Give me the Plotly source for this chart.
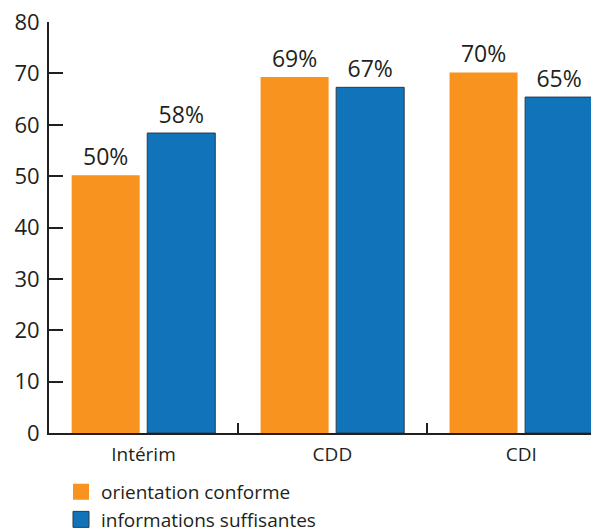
import plotly.graph_objects as go

# Values
categories = ["Intérim", "CDD", "CDI"]
orientation = [50.2, 69.3, 70.2]
informations = [58.4, 67.3, 65.4]
y_ticks = [0, 10, 20, 30, 40, 50, 60, 70, 80]

font = "Open Sans, DejaVu Sans, sans-serif"
ink = "#231f20"
orange = "#F7931E"
blue = "#1173BA"

fig = go.Figure()

fig.add_trace(go.Bar(
    x=categories, y=orientation, name="orientation conforme",
    marker=dict(color=orange, line=dict(width=0)),
    texttemplate="%{y:.0f}%", textposition="outside",
    textfont=dict(size=23, color=ink), cliponaxis=False, showlegend=False
))

fig.add_trace(go.Bar(
    x=categories, y=informations, name="informations suffisantes",
    marker=dict(color=blue, line=dict(color="#2a3a48", width=1)),
    texttemplate="%{y:.0f}%", textposition="outside",
    textfont=dict(size=23, color=ink), cliponaxis=False, showlegend=False
))

# legend entries with bigger square swatches
fig.add_trace(go.Scatter(
    x=[None], y=[None], mode="markers", name="orientation conforme",
    marker=dict(symbol="square", size=18, color=orange)
))
fig.add_trace(go.Scatter(
    x=[None], y=[None], mode="markers", name="informations suffisantes",
    marker=dict(symbol="square", size=18, color=blue, line=dict(color="#2a3a48", width=1))
))

# page body adds an 8px offset, so margins are shifted to compensate
fig.update_layout(
    width=599, height=530,
    margin=dict(l=41, r=12, t=14, b=105),
    plot_bgcolor="white", paper_bgcolor="white",
    font=dict(family=font, color=ink),
    barmode="group", bargap=0.2, bargroupgap=0.1,
    showlegend=True,
    legend=dict(
        xref="paper", yref="container",
        x=0.022, y=0.123, xanchor="left", yanchor="top",
        font=dict(size=19, color=ink), traceorder="normal",
        tracegroupgap=0, itemsizing="trace"
    ),
    uniformtext=dict(minsize=23, mode="show"),
)

fig.update_xaxes(
    range=[-0.5, 2.39], showline=True, linecolor=ink, linewidth=2,
    ticks="inside", tickson="boundaries", ticklen=10, tickcolor=ink, tickwidth=1.5,
    tickfont=dict(size=19, color=ink), showgrid=False, automargin=False,
    ticklabelstandoff=3
)

fig.update_yaxes(
    range=[0, 80.02], tickmode="array", tickvals=y_ticks,
    showline=True, linecolor=ink, linewidth=2,
    ticks="inside", ticklen=14, tickcolor=ink, tickwidth=2,
    tickfont=dict(size=22, color=ink), showgrid=False, zeroline=False,
    automargin=False, ticklabelstandoff=3, ticklabeloverflow="allow"
)

fig.write_html("out.html")
